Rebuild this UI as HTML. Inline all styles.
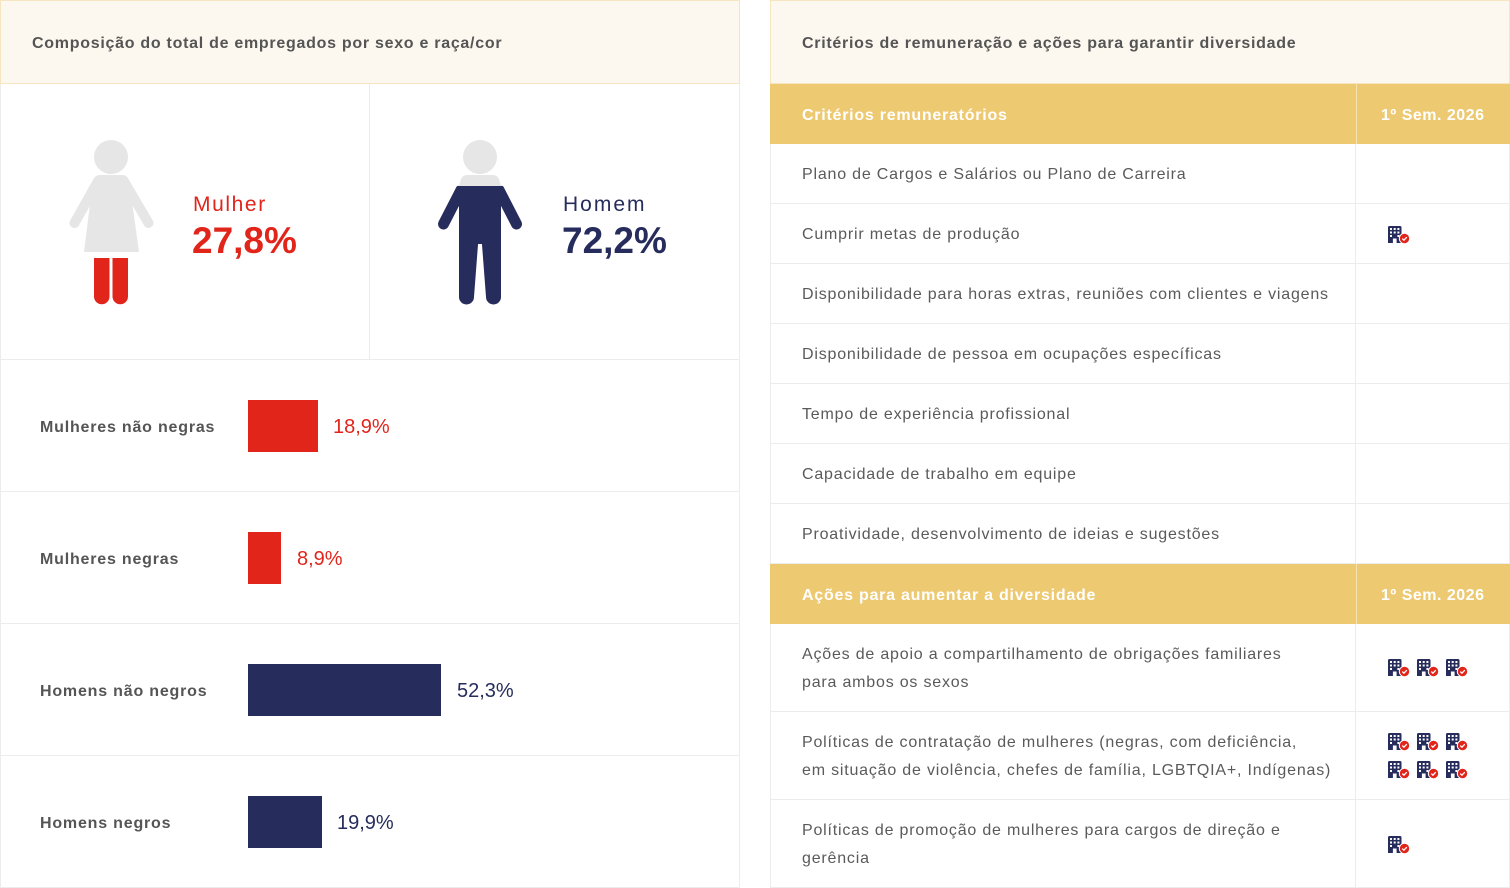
<!DOCTYPE html>
<html><head><meta charset="utf-8"><style>
*{box-sizing:border-box;margin:0;padding:0}
body{width:1510px;height:888px;background:#fff;position:relative;overflow:hidden;font-family:"Liberation Sans",sans-serif;color:#555}
.abs{position:absolute}
.hdr{background:#fdf8ef;border:1px solid #f6e6c0;height:84px;top:0;display:flex;align-items:center;padding-left:31px;padding-top:3px;font-weight:bold;font-size:16px;color:#555;letter-spacing:0.72px}
.panel{border:1px solid #ececec}
.hl{height:1px;background:#ececec}
.vl{width:1px;background:#ececec}
.lbl{font-weight:bold;font-size:16px;color:#555;left:40px;letter-spacing:0.8px}
.pct{font-size:20px}
.row{left:770px;width:740px;border-bottom:1px solid #ececec;border-left:1px solid #ececec;border-right:1px solid #ececec;display:flex;align-items:center;padding-left:31px;padding-top:3px;font-size:16px;color:#5a5a5a;line-height:28px;letter-spacing:0.8px}
.gold{left:770px;width:740px;background:#edc972;color:#fff;font-weight:bold;font-size:16px;display:flex;align-items:center;padding-left:32px;padding-top:3px;letter-spacing:0.75px}
.sem{left:1381px;height:60px;line-height:63px;color:#fff;font-weight:bold;font-size:16px;letter-spacing:0.5px}
.ic{position:absolute;width:22px;height:18px}
</style></head><body>
<svg width="0" height="0" style="position:absolute">
<defs>
<symbol id="bld" viewBox="0 0 22 18">
<path d="M0 1.5Q0 0 1.5 0H12Q13.5 0 13.5 1.5V17H8.6V12.5H4.9V17H0Z" fill="#262c5c"/>
<g fill="#fff"><rect x="2" y="2" width="2" height="2"/><rect x="5.7" y="2" width="2" height="2"/><rect x="9.4" y="2" width="2" height="2"/><rect x="2" y="5.5" width="2" height="2"/><rect x="5.7" y="5.5" width="2" height="2"/><rect x="9.4" y="5.5" width="2" height="2"/><rect x="2" y="9" width="2" height="2"/><rect x="9.4" y="9" width="2" height="2"/></g>
<circle cx="16.5" cy="12.5" r="5.2" fill="#e1251b" stroke="#fff" stroke-width="1"/>
<path d="M14.3 12.6l1.6 1.6 2.9-3" stroke="#fff" stroke-width="1.3" fill="none"/>
</symbol>
<linearGradient id="mg" gradientUnits="userSpaceOnUse" x1="0" y1="175" x2="0" y2="305">
<stop offset="0" stop-color="#e6e6e6"/><stop offset="0.085" stop-color="#e6e6e6"/><stop offset="0.085" stop-color="#262c5c"/><stop offset="1" stop-color="#262c5c"/>
</linearGradient>
</defs>
</svg>

<!-- LEFT PANEL -->
<div class="abs panel" style="left:0;top:0;width:740px;height:888px"></div>
<div class="abs hdr" style="left:0;width:740px">Composição do total de empregados por sexo e raça/cor</div>
<div class="abs vl" style="left:369px;top:84px;height:276px"></div>
<div class="abs hl" style="left:0;top:359px;width:740px"></div>
<div class="abs hl" style="left:0;top:491px;width:740px"></div>
<div class="abs hl" style="left:0;top:623px;width:740px"></div>
<div class="abs hl" style="left:0;top:755px;width:740px"></div>

<svg class="abs" style="left:0;top:0" width="740" height="360">
<!-- woman -->
<circle cx="111" cy="157" r="17" fill="#e6e6e6"/>
<path d="M100 175H122Q127 175 129 180L139 252H84L93 180Q95 175 100 175Z" fill="#e6e6e6"/>
<line x1="97" y1="183" x2="74.5" y2="223" stroke="#e6e6e6" stroke-width="10" stroke-linecap="round"/>
<line x1="125" y1="183" x2="148.5" y2="223" stroke="#e6e6e6" stroke-width="10" stroke-linecap="round"/>
<path d="M94 258H109.5V296.5A7.75 7.75 0 0 1 94 296.5Z" fill="#e1251b"/>
<path d="M112.5 258H128V296.5A7.75 7.75 0 0 1 112.5 296.5Z" fill="#e1251b"/>
<!-- man -->
<circle cx="480" cy="157" r="17" fill="#e6e6e6"/>
<path d="M467 175H493Q497 175 499 179L501 186V244H459V186L461 179Q463 175 467 175Z" fill="url(#mg)"/>
<line x1="461" y1="190" x2="443.5" y2="224" stroke="url(#mg)" stroke-width="11" stroke-linecap="round"/>
<line x1="499" y1="190" x2="516.5" y2="224" stroke="url(#mg)" stroke-width="11" stroke-linecap="round"/>
<path d="M459 238H478.5L474 297A7.5 7.5 0 0 1 459 297Z" fill="#262c5c"/>
<path d="M481.5 238H501V297A7.5 7.5 0 0 1 486 297Z" fill="#262c5c"/>
</svg>

<div class="abs" style="left:193px;top:193px;font-size:21px;color:#e1251b;line-height:24px;letter-spacing:1.6px">Mulher</div>
<div class="abs" style="left:192px;top:220px;font-size:37px;font-weight:bold;color:#e1251b;line-height:42px">27,8%</div>
<div class="abs" style="left:563px;top:193px;font-size:21px;color:#262c5c;line-height:24px;letter-spacing:2px">Homem</div>
<div class="abs" style="left:562px;top:220px;font-size:37px;font-weight:bold;color:#262c5c;line-height:42px">72,2%</div>

<div class="abs lbl" style="top:418px;line-height:20px">Mulheres não negras</div>
<div class="abs" style="left:248px;top:400px;width:70px;height:52px;background:#e1251b"></div>
<div class="abs pct" style="left:333px;top:415px;line-height:24px;color:#e1251b">18,9%</div>

<div class="abs lbl" style="top:550px;line-height:20px">Mulheres negras</div>
<div class="abs" style="left:248px;top:532px;width:33px;height:52px;background:#e1251b"></div>
<div class="abs pct" style="left:297px;top:547px;line-height:24px;color:#e1251b">8,9%</div>

<div class="abs lbl" style="top:682px;line-height:20px">Homens não negros</div>
<div class="abs" style="left:248px;top:664px;width:193px;height:52px;background:#262c5c"></div>
<div class="abs pct" style="left:457px;top:679px;line-height:24px;color:#262c5c">52,3%</div>

<div class="abs lbl" style="top:814px;line-height:20px">Homens negros</div>
<div class="abs" style="left:248px;top:796px;width:74px;height:52px;background:#262c5c"></div>
<div class="abs pct" style="left:337px;top:811px;line-height:24px;color:#262c5c">19,9%</div>

<!-- RIGHT PANEL -->
<div class="abs hdr" style="left:770px;width:740px">Critérios de remuneração e ações para garantir diversidade</div>
<div class="abs gold" style="top:84px;height:60px">Critérios remuneratórios</div>
<div class="abs sem" style="top:84px">1º Sem. 2026</div>

<div class="abs row" style="top:144px;height:60px">Plano de Cargos e Salários ou Plano de Carreira</div>
<div class="abs row" style="top:204px;height:60px">Cumprir metas de produção</div>
<div class="abs row" style="top:264px;height:60px">Disponibilidade para horas extras, reuniões com clientes e viagens</div>
<div class="abs row" style="top:324px;height:60px">Disponibilidade de pessoa em ocupações específicas</div>
<div class="abs row" style="top:384px;height:60px">Tempo de experiência profissional</div>
<div class="abs row" style="top:444px;height:60px">Capacidade de trabalho em equipe</div>
<div class="abs row" style="top:504px;height:60px">Proatividade, desenvolvimento de ideias e sugestões</div>

<div class="abs gold" style="top:564px;height:60px">Ações para aumentar a diversidade</div>
<div class="abs sem" style="top:564px">1º Sem. 2026</div>

<div class="abs row" style="top:624px;height:88px">Ações de apoio a compartilhamento de obrigações familiares<br>para ambos os sexos</div>
<div class="abs row" style="top:712px;height:88px">Políticas de contratação de mulheres (negras, com deficiência,<br>em situação de violência, chefes de família, LGBTQIA+, Indígenas)</div>
<div class="abs row" style="top:800px;height:88px">Políticas de promoção de mulheres para cargos de direção e<br>gerência</div>

<div class="abs vl" style="left:1356px;top:84px;height:60px;background:#f5e3b0"></div>
<div class="abs vl" style="left:1356px;top:564px;height:60px;background:#f5e3b0"></div>
<div class="abs vl" style="left:1355px;top:144px;height:420px"></div>
<div class="abs vl" style="left:1355px;top:624px;height:264px"></div>

<svg class="ic" style="left:1388px;top:226px"><use href="#bld"/></svg>

<svg class="ic" style="left:1388px;top:659px"><use href="#bld"/></svg>
<svg class="ic" style="left:1417px;top:659px"><use href="#bld"/></svg>
<svg class="ic" style="left:1446px;top:659px"><use href="#bld"/></svg>

<svg class="ic" style="left:1388px;top:733px"><use href="#bld"/></svg>
<svg class="ic" style="left:1417px;top:733px"><use href="#bld"/></svg>
<svg class="ic" style="left:1446px;top:733px"><use href="#bld"/></svg>
<svg class="ic" style="left:1388px;top:761px"><use href="#bld"/></svg>
<svg class="ic" style="left:1417px;top:761px"><use href="#bld"/></svg>
<svg class="ic" style="left:1446px;top:761px"><use href="#bld"/></svg>

<svg class="ic" style="left:1388px;top:836px"><use href="#bld"/></svg>
</body></html>
